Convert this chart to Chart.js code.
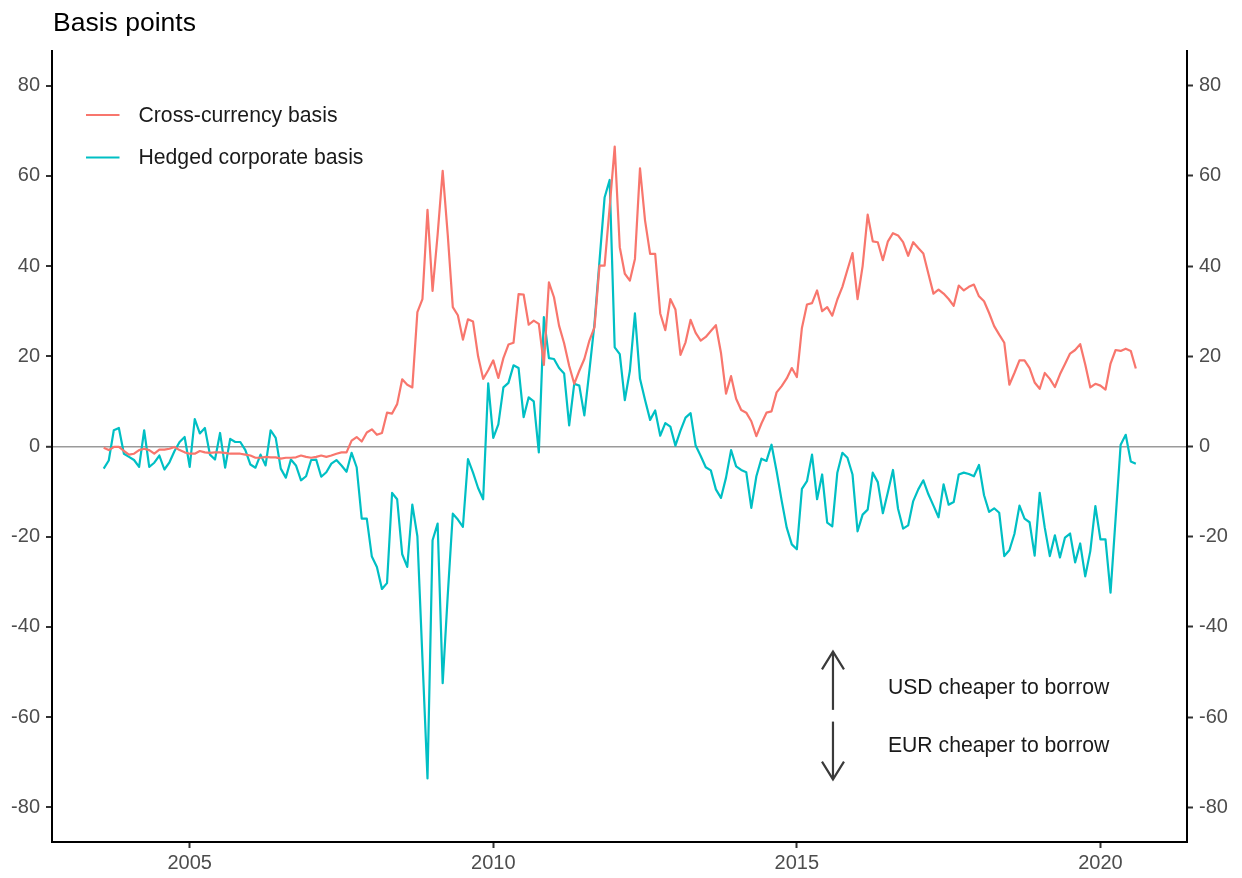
<!DOCTYPE html>
<html>
<head>
<meta charset="utf-8">
<script src="https://cdn.jsdelivr.net/npm/chart.js@4.4.1/dist/chart.umd.min.js"></script>
<style>
html,body{margin:0;padding:0;background:#ffffff;}
#wrap{width:1242px;height:878px;}
</style>
</head>
<body>
<div id="wrap"><canvas id="c" width="1242" height="878"></canvas></div>
<script>
// ---------------- DATA ----------------
const titleText = 'Basis points';
const seriesNames = ['Cross-currency basis', 'Hedged corporate basis'];
const startYear = 2003;
const startMonth = 8; // first observation: August 2003, monthly thereafter

const crossCurrency = [
  -0.3,-0.8,-0.1,-0.1,-1.0,-1.8,-1.6,-0.8,-0.5,-0.8,
  -1.6,-0.7,-0.7,-0.5,-0.1,-0.8,-1.3,-1.6,-1.6,-1.0,
  -1.3,-1.4,-1.3,-1.3,-1.4,-1.6,-1.6,-1.6,-1.8,-2.0,
  -2.5,-2.5,-2.3,-2.4,-2.4,-2.7,-2.5,-2.5,-2.4,-2.0,
  -2.3,-2.5,-2.3,-2.0,-2.3,-2.0,-1.6,-1.3,-1.3,1.3,
  2.1,1.1,3.1,3.8,2.6,3.0,7.5,7.3,9.4,14.9,
  13.7,13.1,29.8,32.7,52.5,34.5,47.0,61.1,47.0,30.9,
  29.1,23.7,28.2,27.7,20.0,15.0,16.9,19.1,15.2,19.6,
  22.6,23.0,33.8,33.7,27.0,27.9,27.2,18.1,36.4,33.1,
  26.8,22.9,17.9,13.9,16.8,19.4,23.5,26.4,40.1,40.1,
  53.0,66.5,44.2,38.3,36.8,41.6,61.7,50.1,42.7,42.7,
  29.5,25.8,32.7,30.4,20.3,23.1,28.1,25.2,23.5,24.3,
  25.6,26.9,20.8,11.7,15.6,10.6,8.1,7.5,5.6,2.3,
  5.1,7.5,7.8,12.0,13.4,15.1,17.4,15.4,26.3,31.5,
  31.8,34.6,30.0,30.9,29.0,32.6,35.4,39.2,42.9,32.7,
  40.0,51.4,45.5,45.3,41.3,45.5,47.3,46.8,45.3,42.3,
  45.3,44.0,42.8,38.3,33.9,34.8,33.9,32.7,31.2,35.7,
  34.6,35.4,35.9,33.3,32.2,29.6,26.7,24.8,23.0,13.7,
  16.3,19.1,19.1,17.4,14.2,12.8,16.3,15.0,13.2,16.0,
  18.3,20.6,21.4,22.7,18.2,13.1,13.9,13.5,12.6,18.4,
  21.4,21.2,21.7,21.2,17.3
];

const hedgedCorporate = [
  -4.9,-3.1,3.6,4.1,-1.6,-2.3,-3.0,-4.5,3.6,-4.5,
  -3.6,-2.0,-5.1,-3.5,-1.0,1.0,2.1,-4.5,6.1,2.9,
  4.1,-1.8,-2.9,3.0,-4.7,1.7,1.0,1.0,-0.8,-4.0,
  -4.7,-1.8,-4.2,3.6,1.9,-4.9,-6.9,-2.9,-4.2,-7.5,
  -6.6,-3.0,-2.9,-6.7,-5.7,-3.8,-3.0,-4.2,-5.6,-1.4,
  -4.6,-16.0,-16.0,-24.4,-26.7,-31.6,-30.3,-10.3,-11.7,-23.9,
  -26.7,-12.9,-19.9,-47.0,-73.6,-20.8,-17.1,-52.5,-33.0,-14.9,
  -16.2,-17.8,-2.8,-5.8,-9.2,-11.7,14.0,1.9,4.9,13.1,
  14.1,18.0,17.4,6.5,10.9,10.0,-1.3,28.7,19.6,19.4,
  17.4,16.2,4.7,13.9,13.5,6.9,16.8,27.2,41.2,55.2,
  59.1,22.0,20.5,10.3,16.8,29.5,15.0,10.3,5.9,8.0,
  2.4,5.2,4.4,0.2,3.5,6.4,7.4,0.2,-2.1,-4.6,
  -5.3,-9.5,-11.4,-6.9,-0.8,-4.4,-5.2,-5.7,-13.6,-6.6,
  -2.7,-3.2,0.4,-5.5,-12.0,-18.0,-21.7,-22.8,-9.4,-7.7,
  -1.8,-11.7,-6.2,-16.9,-17.7,-5.8,-1.4,-2.5,-6.2,-18.8,
  -15.1,-14.0,-5.8,-7.9,-14.8,-10.1,-5.2,-13.8,-18.2,-17.5,
  -12.1,-9.5,-7.5,-10.6,-13.1,-15.7,-8.4,-12.9,-12.3,-6.2,
  -5.8,-6.1,-6.6,-4.1,-10.8,-14.5,-13.7,-14.7,-24.3,-23.0,
  -19.4,-13.1,-16.0,-16.8,-24.2,-10.3,-18.0,-24.3,-19.7,-24.6,
  -20.2,-19.3,-25.7,-21.5,-28.8,-23.2,-13.2,-20.6,-20.6,-32.4,
  -16.0,0.4,2.6,-3.3,-3.8
];

const xTickValues = [2005, 2010, 2015, 2020];
const yTickValues = [-80, -60, -40, -20, 0, 20, 40, 60, 80];
const annotationTexts = ['USD cheaper to borrow', 'EUR cheaper to borrow'];

// month positions as decimal years
const months = crossCurrency.map((_, i) => startYear + (startMonth - 1 + i) / 12);

// ---------------- STYLE ----------------
const FONT = '"Liberation Sans", Arial, Helvetica, sans-serif';
const colors = ['#F8766D', '#00BFC4'];
const X_MIN = 2002.732, X_MAX = 2021.426;
const Y_MIN = -87.7, Y_MAX = 87.7;

Chart.defaults.font.family = FONT;

const toPoints = arr => arr.map((v, i) => ({ x: months[i], y: v }));

const decor = {
  id: 'decor',
  afterDatasetsDraw(chart) {
    const { ctx } = chart;
    const xs = chart.scales.x, ys = chart.scales.y;
    ctx.save();
    // title
    ctx.fillStyle = '#000000';
    ctx.font = '26.5px ' + FONT;
    ctx.textAlign = 'left';
    ctx.textBaseline = 'alphabetic';
    ctx.fillText(titleText, 53, 31);

    // legend
    const legendY = [115, 157.5];
    chart.data.datasets.forEach((ds, i) => {
      const ly = legendY[i];
      ctx.strokeStyle = ds.borderColor;
      ctx.lineWidth = 2.2;
      ctx.lineCap = 'butt';
      ctx.beginPath();
      ctx.moveTo(86, ly);
      ctx.lineTo(119.5, ly);
      ctx.stroke();
      ctx.fillStyle = '#1a1a1a';
      ctx.font = '21.2px ' + FONT;
      ctx.textBaseline = 'middle';
      ctx.fillText(ds.label, 138.5, ly + 1);
    });

    // annotation arrows
    const ax = xs.getPixelForValue(2015.595);
    const arrow = (yFrom, yTo) => {
      const p1 = ys.getPixelForValue(yFrom);
      const p2 = ys.getPixelForValue(yTo);
      const dir = p2 > p1 ? 1 : -1;
      ctx.strokeStyle = '#3a3a3a';
      ctx.lineWidth = 2.2;
      ctx.lineCap = 'butt';
      ctx.lineJoin = 'miter';
      ctx.beginPath();
      ctx.moveTo(ax, p1);
      ctx.lineTo(ax, p2);
      ctx.stroke();
      ctx.beginPath();
      ctx.moveTo(ax - 11, p2 - dir * 17.7);
      ctx.lineTo(ax, p2);
      ctx.lineTo(ax + 11, p2 - dir * 17.7);
      ctx.stroke();
    };
    arrow(-58.4, -45.5);
    arrow(-61.0, -73.8);

    ctx.fillStyle = '#1a1a1a';
    ctx.font = '21.2px ' + FONT;
    ctx.textAlign = 'left';
    ctx.textBaseline = 'middle';
    const tx = xs.getPixelForValue(2016.50);
    ctx.fillText(annotationTexts[0], tx, ys.getPixelForValue(-53.3) + 1);
    ctx.fillText(annotationTexts[1], tx, ys.getPixelForValue(-66.2) + 1);
    ctx.restore();
  }
};

const tickFont = { size: 20, family: FONT };

new Chart(document.getElementById('c'), {
  type: 'line',
  data: {
    datasets: [
      { label: seriesNames[0], data: toPoints(crossCurrency), borderColor: colors[0],
        backgroundColor: colors[0], borderWidth: 2.2, pointRadius: 0, tension: 0,
        borderJoinStyle: 'round', fill: false, yAxisID: 'y' },
      { label: seriesNames[1], data: toPoints(hedgedCorporate), borderColor: colors[1],
        backgroundColor: colors[1], borderWidth: 2.2, pointRadius: 0, tension: 0,
        borderJoinStyle: 'round', fill: false, yAxisID: 'y' }
    ]
  },
  options: {
    responsive: false,
    animation: false,
    devicePixelRatio: 1,
    layout: { padding: { top: 51, left: 0, right: 0, bottom: 0 } },
    plugins: { legend: { display: false }, tooltip: { enabled: false }, title: { display: false } },
    scales: {
      x: {
        type: 'linear', position: 'bottom', min: X_MIN, max: X_MAX,
        afterBuildTicks: s => { s.ticks = xTickValues.map(v => ({ value: v })); },
        afterFit: s => { s.height = 36; },
        ticks: { font: tickFont, color: '#4d4d4d', padding: 3, maxRotation: 0,
                 callback: v => String(v) },
        grid: { drawOnChartArea: false, drawTicks: true, tickLength: 6, tickColor: '#333333', tickWidth: 2 },
        border: { display: true, color: '#000000', width: 2 }
      },
      y: {
        type: 'linear', position: 'left', min: Y_MIN, max: Y_MAX,
        afterBuildTicks: s => { s.ticks = yTickValues.map(v => ({ value: v })); },
        afterFit: s => { s.width = 52; },
        ticks: { font: tickFont, color: '#4d4d4d', padding: 6, callback: v => String(v) },
        grid: {
          drawOnChartArea: true, drawTicks: true, tickLength: 6, tickColor: '#333333', tickWidth: 2,
          color: c => (c.tick && c.tick.value === 0) ? '#9a9a9a' : 'rgba(0,0,0,0)',
          lineWidth: c => (c.tick && c.tick.value === 0) ? 1.6 : 0
        },
        border: { display: true, color: '#000000', width: 2 }
      },
      y2: {
        type: 'linear', position: 'right', min: Y_MIN, max: Y_MAX,
        afterBuildTicks: s => { s.ticks = yTickValues.map(v => ({ value: v })); },
        afterFit: s => { s.width = 55; },
        ticks: { font: tickFont, color: '#4d4d4d', padding: 6, callback: v => String(v) },
        grid: { drawOnChartArea: false, drawTicks: true, tickLength: 6, tickColor: '#333333', tickWidth: 2 },
        border: { display: true, color: '#000000', width: 2 }
      }
    }
  },
  plugins: [decor]
});
</script>
</body>
</html>
